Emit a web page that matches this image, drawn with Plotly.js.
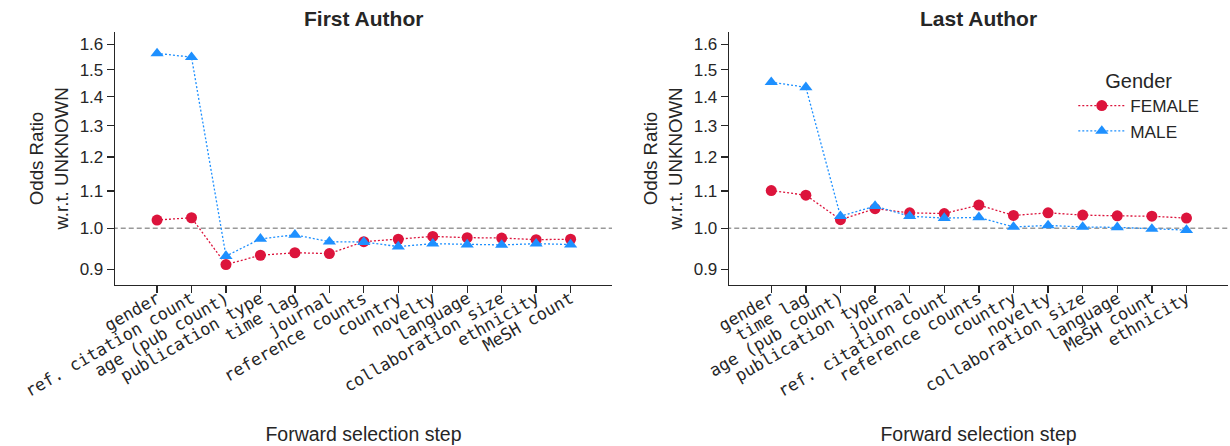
<!DOCTYPE html>
<html>
<head>
<meta charset="utf-8">
<script src="https://cdn.plot.ly/plotly-3.0.1.min.js"></script>
<style>html,body{margin:0;padding:0;background:#fff;}#chart{width:1230px;height:446px;}</style>
</head>
<body>
<div id="chart"></div>
<script>
// ---- data ----
const firstSteps = ["gender", "ref. citation count", "age (pub count)", "publication type", "time lag", "journal", "reference counts", "country", "novelty", "language", "collaboration size", "ethnicity", "MeSH count"];
const firstFemale = [1.021, 1.027, 0.911, 0.933, 0.939, 0.937, 0.966, 0.972, 0.979, 0.976, 0.975, 0.971, 0.972];
const firstMale   = [1.564, 1.549, 0.931, 0.973, 0.983, 0.966, 0.965, 0.954, 0.961, 0.959, 0.958, 0.961, 0.959];

const lastSteps = ["gender", "time lag", "age (pub count)", "publication type", "journal", "ref. citation count", "reference counts", "country", "novelty", "collaboration size", "language", "MeSH count", "ethnicity"];
const lastFemale = [1.101, 1.088, 1.022, 1.051, 1.040, 1.038, 1.061, 1.033, 1.040, 1.034, 1.032, 1.031, 1.026];
const lastMale   = [1.453, 1.434, 1.031, 1.058, 1.031, 1.026, 1.028, 1.003, 1.007, 1.003, 1.002, 0.998, 0.995];

const yTickVals = [0.9, 1.0, 1.1, 1.2, 1.3, 1.4, 1.5, 1.6];
const yTickText = ["0.9", "1.0", "1.1", "1.2", "1.3", "1.4", "1.5", "1.6"];
const refValue = 1.0;

// ---- styling ----
const FEMALE_COLOR = "#DC143C";
const MALE_COLOR = "#1E90FF";
const TEXT = "#262626";
const SANS = "Liberation Sans, Arial, sans-serif";
const MONO = "DejaVu Sans Mono, monospace";

const idx = a => a.map((_, i) => i);

function series(x, y, name, color, symbol, size, axes, show) {
  return {
    x: x, y: y, name: name, type: "scatter", mode: "lines+markers",
    xaxis: axes[0], yaxis: axes[1], showlegend: show, legendgroup: name,
    line: {color: color, width: 1.3, dash: "2px,2px"},
    marker: {color: color, symbol: symbol, size: size, line: {width: 0}},
    hoverinfo: "x+y"
  };
}
function refLine(axes) {
  return {x: [-5, 20], y: [refValue, refValue], type: "scatter", mode: "lines",
    xaxis: axes[0], yaxis: axes[1], showlegend: false, hoverinfo: "skip",
    line: {color: "#999999", width: 1.5, dash: "5px,3px"}};
}

const traces = [
  refLine(["x", "y"]), refLine(["x2", "y2"]),
  series(idx(firstSteps), firstFemale, "FEMALE", FEMALE_COLOR, "circle", 11, ["x", "y"], true),
  series(idx(firstSteps), firstMale, "MALE", MALE_COLOR, "triangle-up", 11.5, ["x", "y"], true),
  series(idx(lastSteps), lastFemale, "FEMALE", FEMALE_COLOR, "circle", 11, ["x2", "y2"], false),
  series(idx(lastSteps), lastMale, "MALE", MALE_COLOR, "triangle-up", 11.5, ["x2", "y2"], false)
];

const xRange = [-1.22, 13.2];
const yRange = [Math.log10(0.8646), Math.log10(1.652)];

function xAxis(domain, labels, anchor) {
  return {
    domain: domain, anchor: anchor, range: xRange, type: "linear",
    tickmode: "array", tickvals: idx(labels), ticktext: labels, tickangle: -30,
    tickfont: {family: MONO, size: 16.8, color: TEXT},
    ticks: "outside", ticklen: 7, tickwidth: 1.3, tickcolor: TEXT,
    ticklabelstandoff: -11,
    showline: true, linecolor: TEXT, linewidth: 1.3, showgrid: false, zeroline: false,
    automargin: false,
    title: {text: "Forward selection step", font: {family: SANS, size: 19.5, color: TEXT}, standoff: 27}
  };
}
function yAxis(anchor) {
  return {
    anchor: anchor, type: "log", range: yRange,
    tickmode: "array", tickvals: yTickVals, ticktext: yTickText,
    tickfont: {family: SANS, size: 17, color: TEXT},
    ticks: "outside", ticklen: 7, tickwidth: 1.3, tickcolor: TEXT,
    showline: true, linecolor: TEXT, linewidth: 1.3, showgrid: false, zeroline: false,
    automargin: false,
    title: {text: "Odds Ratio<br>w.r.t. UNKNOWN", font: {family: SANS, size: 18.7, color: TEXT}, standoff: 6}
  };
}

const layout = {
  width: 1230, height: 446,
  margin: {l: 115, r: 2, t: 32, b: 161},
  paper_bgcolor: "#fff", plot_bgcolor: "#fff",
  font: {family: SANS, color: TEXT},
  xaxis: xAxis([0, 0.4465], firstSteps, "y"),
  yaxis: yAxis("x"),
  xaxis2: xAxis([0.5517, 1], lastSteps, "y2"),
  yaxis2: yAxis("x2"),
  showlegend: true,
  legend: {
    x: 0.861, y: 0.882, xanchor: "left", yanchor: "top",
    bgcolor: "rgba(0,0,0,0)", borderwidth: 0,
    font: {family: SANS, size: 17.2, color: TEXT},
    title: {text: "Gender", side: "top center", font: {family: SANS, size: 20, color: TEXT}},
    itemwidth: 47, tracegroupgap: 0
  },
  annotations: [
    {text: "<b>First Author</b>", xref: "x domain", yref: "paper", x: 0.5, y: 1.055, xanchor: "center", yanchor: "middle", showarrow: false, font: {family: SANS, size: 21, color: TEXT}},
    {text: "<b>Last Author</b>", xref: "x2 domain", yref: "paper", x: 0.5, y: 1.055, xanchor: "center", yanchor: "middle", showarrow: false, font: {family: SANS, size: 21, color: TEXT}}
  ]
};

Plotly.newPlot("chart", traces, layout, {displayModeBar: false, staticPlot: true});
</script>
</body>
</html>
